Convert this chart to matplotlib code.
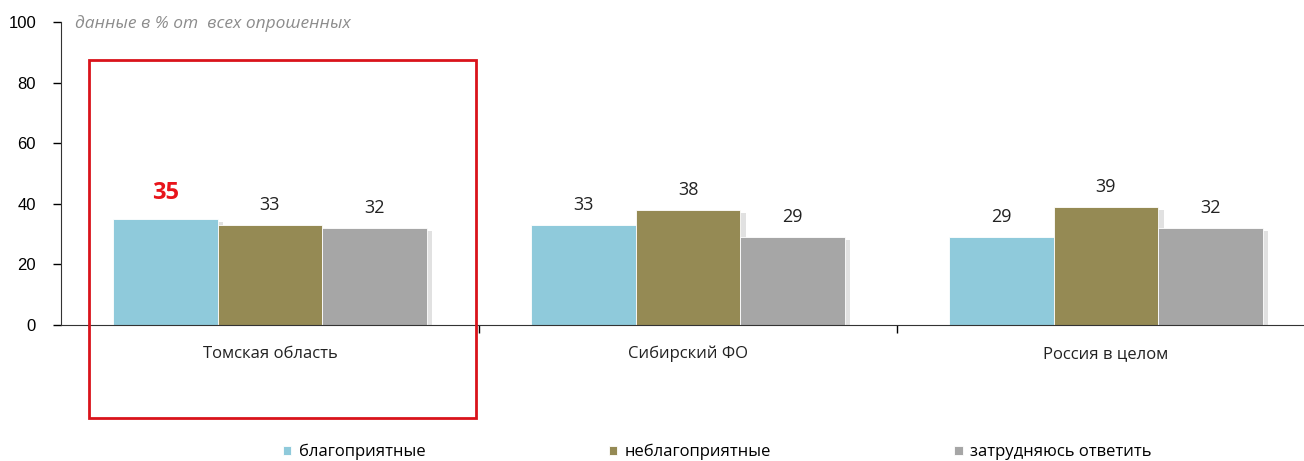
import matplotlib.pyplot as plt
import matplotlib.patheffects as pe
from matplotlib.patches import Rectangle
import numpy as np

plt.rcParams['font.family'] = ['Open Sans', 'DejaVu Sans']

# данные
categories = ['Томская область', 'Сибирский ФО', 'Россия в целом']
series_names = ['благоприятные', 'неблагоприятные', 'затрудняюсь ответить']
values = [
    [35, 33, 29],   # благоприятные
    [33, 38, 39],   # неблагоприятные
    [32, 29, 32],   # затрудняюсь ответить
]
colors = ['#8FCADB', '#958A54', '#A6A6A6']
yticks = [0, 20, 40, 60, 80, 100]

fig = plt.figure(figsize=(13.04, 4.61), dpi=100)
ax = fig.add_axes([61 / 1304, 136 / 461, 1254 / 1304, 303 / 461])

x = np.arange(len(categories))
w = 0.25
all_bars = []

for i, (name, vals, col) in enumerate(zip(series_names, values, colors)):
    bars = ax.bar(x + (i - 1) * w, vals, width=w, color=col, label=name,
                  edgecolor='white', linewidth=0.6, zorder=2)
    all_bars.extend(bars)
    for j, (b, v) in enumerate(zip(bars, vals)):
        hl = (i == 0 and j == 0)
        ax.annotate(str(v), (b.get_x() + b.get_width() / 2, v),
                    xytext=(0, 10 if hl else 8), textcoords='offset points',
                    ha='center', va='bottom',
                    fontsize=17 if hl else 13,
                    fontweight='bold' if hl else 'normal',
                    color='#E8141B' if hl else '#222222')

ax.set_xlim(-0.5, len(categories) - 0.5)
ax.set_ylim(0, 100)
ax.set_yticks(yticks)
ax.tick_params(axis='y', direction='out', length=6, width=1, labelsize=12, pad=12)
for lab in ax.get_yticklabels():
    lab.set_family(['Liberation Sans', 'DejaVu Sans'])

ax.set_xticks(x[:-1] + 0.5)
ax.set_xticklabels([])
ax.tick_params(axis='x', which='major', direction='out', length=6, width=1)
ax.set_xticks(x, minor=True)
ax.set_xticklabels(categories, minor=True, fontsize=12, color='#222222')
ax.tick_params(axis='x', which='minor', length=0, pad=15)

for s in ['top', 'right']:
    ax.spines[s].set_visible(False)
ax.spines['left'].set_color('#333333')
ax.spines['bottom'].set_color('#333333')

# подпись
ax.text(0.011, 99.5, 'данные в % от  всех опрошенных', transform=ax.get_yaxis_transform(),
        fontsize=12.5, style='italic', color='#8C8C8C', va='center', ha='left')

# красная рамка вокруг Томской области
ax.add_patch(Rectangle((x[0] - 0.433, -30.7), 0.926, 118.2, fill=False,
                       edgecolor='#D9131B', linewidth=2, clip_on=False, zorder=5))

fig.legend(loc='center left', bbox_to_anchor=(283 / 1304, 9 / 461), ncol=3,
           frameon=False, fontsize=12, handlelength=0.5, handleheight=0.5,
           handletextpad=0.45, columnspacing=11.0, borderaxespad=0, borderpad=0)

# лёгкая тень справа от столбцов
shadow = [pe.SimplePatchShadow(offset=(4, -2), shadow_rgbFace='#777777', alpha=0.22), pe.Normal()]
for b in all_bars:
    b.set_path_effects(shadow)

fig.savefig('out.png', dpi=100)
